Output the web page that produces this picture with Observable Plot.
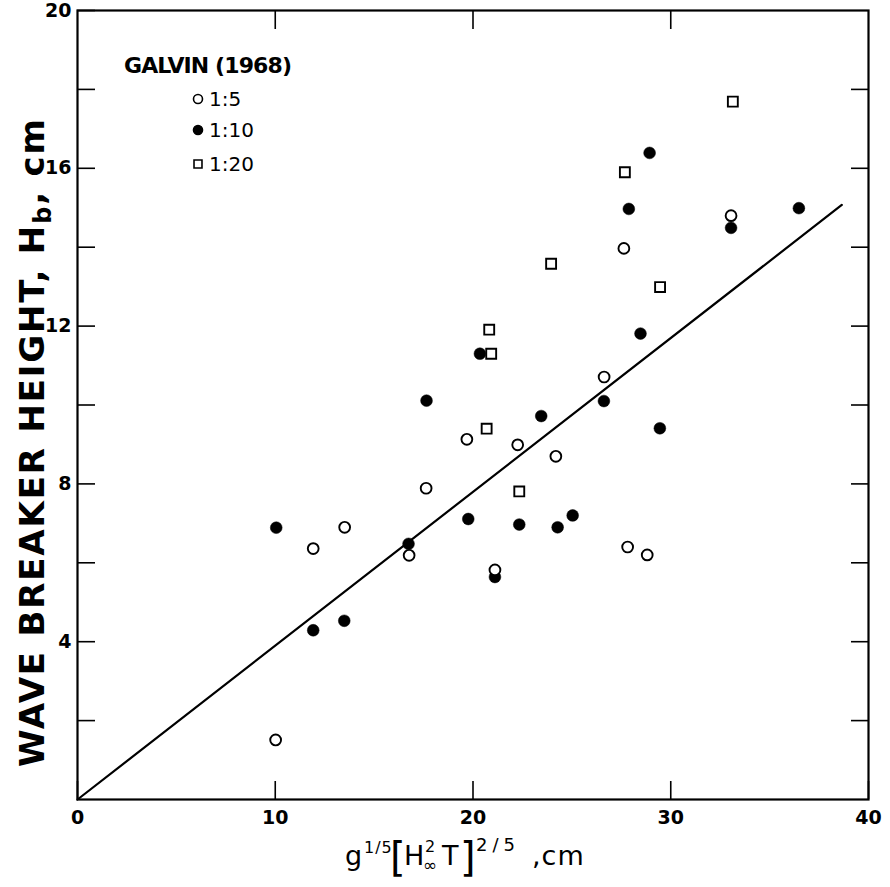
<!DOCTYPE html>
<html><head><meta charset="utf-8">
<script src="https://cdn.jsdelivr.net/npm/d3@7"></script>
<script src="https://cdn.jsdelivr.net/npm/@observablehq/plot@0.6"></script>
<style>body{margin:0;background:#fff}</style>
</head><body><div id="chart"></div>
<script>
// Galvin (1968) data, beach slope 1:5 (open circles)
const slope5X = [10.02, 11.92, 13.51, 16.77, 17.63, 19.69, 21.11, 22.26, 24.19, 26.63, 27.63, 27.82, 28.81, 33.05];
const slope5Y = [1.51, 6.36, 6.90, 6.19, 7.89, 9.13, 5.82, 8.99, 8.70, 10.71, 13.97, 6.40, 6.20, 14.80];
// beach slope 1:10 (filled circles)
const slope10X = [10.05, 11.92, 13.49, 16.74, 17.65, 19.76, 20.35, 21.11, 22.34, 23.45, 24.28, 25.04, 26.62, 27.88, 28.47, 28.93, 29.45, 33.05, 36.48];
const slope10Y = [6.89, 4.29, 4.53, 6.48, 10.11, 7.11, 11.30, 5.64, 6.97, 9.72, 6.90, 7.20, 10.10, 14.97, 11.81, 16.39, 9.41, 14.49, 14.99];
// beach slope 1:20 (open squares)
const slope20X = [20.82, 20.92, 20.69, 22.34, 23.95, 27.68, 29.46, 33.14];
const slope20Y = [11.91, 11.30, 9.40, 7.81, 13.58, 15.90, 12.99, 17.69];
// fitted line Hb = 0.39 g^(1/5) (H^2 T)^(2/5)
const fitX = [0, 38.65];
const fitY = [0, 15.07];
// ticks
const xLabelTicks = [0, 10, 20, 30, 40];
const xTopTicks = [10, 20, 30];
const yTicks = [2, 4, 6, 8, 10, 12, 14, 16, 18, 20];
const yRightTicks = [2, 4, 6, 8, 10, 12, 14, 16, 18];
const legendTitle = "GALVIN (1968)";
const legendLabels = ["1:5", "1:10", "1:20"];

const rows = (xs, ys) => xs.map((x, i) => ({x, y: ys[i]}));
const FONT = "DejaVu Sans";

const chart = Plot.plot({
  width: 890, height: 887,
  marginLeft: 77, marginRight: 22, marginTop: 10, marginBottom: 88,
  x: {domain: [0, 40]},
  y: {domain: [0, 20]},
  style: {fontFamily: FONT, fontSize: "19px", color: "#000", background: "#fff"},
  marks: [
    Plot.line(rows(fitX, fitY), {x: "x", y: "y", stroke: "#000", strokeWidth: 2.2}),
    Plot.dot(rows(slope10X, slope10Y), {x: "x", y: "y", r: 5.9, fill: "#000", stroke: "#000", strokeWidth: 0.5}),
    Plot.dot(rows(slope5X, slope5Y), {x: "x", y: "y", r: 5.4, fill: "#fff", stroke: "#000", strokeWidth: 1.9}),
    Plot.dot(rows(slope20X, slope20Y), {x: "x", y: "y", symbol: "square", r: 5.6, fill: "#fff", stroke: "#000", strokeWidth: 1.9}),
    Plot.axisY(yTicks, {anchor: "left", tickSize: -18, tickPadding: 24, strokeWidth: 1.6, fontWeight: "bold",
      tickFormat: d => d % 4 === 0 ? String(d) : "", label: null}),
    Plot.axisY(yRightTicks, {anchor: "right", tickSize: -18, strokeWidth: 1.6, tickFormat: () => "", label: null}),
    Plot.axisX(xLabelTicks, {anchor: "bottom", tickSize: -18, tickPadding: 29, strokeWidth: 1.6, fontWeight: "bold",
      tickFormat: d => String(d), label: null}),
    Plot.axisX(xTopTicks, {anchor: "top", tickSize: -18, strokeWidth: 1.6, tickFormat: () => "", label: null}),
    Plot.frame({stroke: "#000", strokeWidth: 2.2})
  ]
});
document.getElementById("chart").appendChild(chart);

const svg = d3.select(chart);

// Y axis title
const yt = svg.append("text")
  .attr("transform", "translate(44,443) rotate(-90)")
  .attr("text-anchor", "middle")
  .attr("font-family", FONT).attr("font-weight", "bold").attr("font-size", 34)
  .attr("textLength", 648).attr("lengthAdjust", "spacing")
  .attr("fill", "#000");
yt.append("tspan").text("WAVE BREAKER HEIGHT, H");
yt.append("tspan").attr("dy", 7).attr("font-size", 24).text("b");
yt.append("tspan").attr("dy", -7).text(", cm");

// X axis title
const B = 865;
const g = svg.append("g").attr("font-family", FONT).attr("fill", "#000").attr("text-anchor", "start");
const piece = (x, y, size, txt, extra = {}) => {
  const t = g.append("text").attr("x", x).attr("y", y).attr("font-size", size)
    .attr("text-anchor", "start").text(txt);
  for (const k in extra) t.attr(k, extra[k]);
  return t;
};
piece(345, B, 27, "g");
piece(364, B - 12, 16, "1/5", {"letter-spacing": 1});
piece(390, B + 6, 40, "[");
piece(404, B, 27, "H");
piece(425, B - 13, 16, "2");
piece(423, B + 6, 17, "∞");
piece(442, B, 27, "T");
piece(460, B + 6, 40, "]");
piece(476, B - 14, 18, "2/5", {"letter-spacing": 5});
piece(532, B, 27, ",cm", {"letter-spacing": 1});

// Legend
const lg = svg.append("g").attr("font-family", FONT).attr("fill", "#000").attr("text-anchor", "start");
lg.append("text").attr("x", 124).attr("y", 73).attr("font-size", 22).attr("font-weight", "bold")
  .attr("text-anchor", "start")
  .attr("textLength", 168).attr("lengthAdjust", "spacing").text(legendTitle);
const legY = [99, 130, 164];
const legSym = [d3.symbolCircle, d3.symbolCircle, d3.symbolSquare];
const legFill = ["#fff", "#000", "#fff"];
legendLabels.forEach((lab, i) => {
  lg.append("path")
    .attr("transform", `translate(198,${legY[i]})`)
    .attr("d", d3.symbol(legSym[i], Math.PI * 4.5 * 4.5)())
    .attr("fill", legFill[i]).attr("stroke", "#000").attr("stroke-width", 1.6);
  lg.append("text").attr("x", 209).attr("y", legY[i] + 7).attr("font-size", 20)
    .attr("text-anchor", "start").text(lab);
});
</script>
</body></html>
